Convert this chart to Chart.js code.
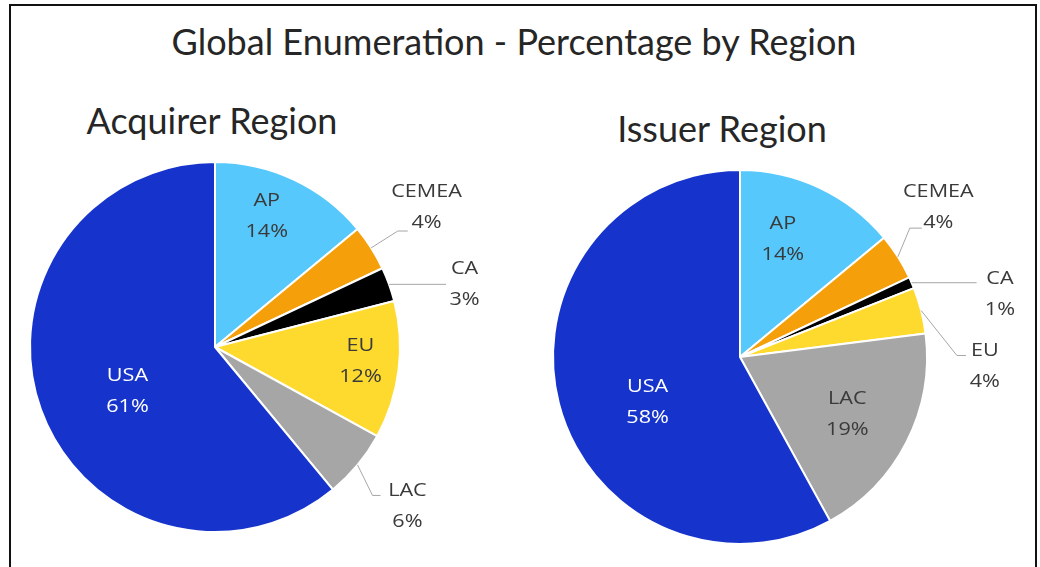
<!DOCTYPE html>
<html>
<head>
<meta charset="utf-8">
<script src="https://cdn.jsdelivr.net/npm/chart.js@4/dist/chart.umd.min.js"></script>
<style>
  html, body { margin: 0; padding: 0; background: #fff; }
  #page { position: relative; width: 1040px; height: 567px; overflow: hidden; }
  #frame { position: absolute; left: 9px; top: 4px; width: 1024px; height: 620px; border: 2px solid #111; }
  .txt { position: absolute; font-family: Lato, sans-serif; color: #262626; white-space: nowrap; text-align: center; }
  #title { left: 0; width: 1028px; top: 19px; font-size: 36px; line-height: 44px; }
  #subA { left: 62px; width: 300px; top: 98px; font-size: 36px; line-height: 44px; }
  #subI { left: 572px; width: 300px; top: 106px; font-size: 36px; line-height: 44px; }
  .box { position: absolute; top: 140px; width: 520px; height: 427px; }
  #boxA { left: 0; }
  #boxI { left: 520px; }
</style>
</head>
<body>
<div id="page">
  <div id="frame"></div>
  <div class="txt" id="title">Global Enumeration - Percentage by Region</div>
  <div class="txt" id="subA">Acquirer Region</div>
  <div class="txt" id="subI">Issuer Region</div>
  <div class="box" id="boxA"><canvas id="acq" width="520" height="427"></canvas></div>
  <div class="box" id="boxI"><canvas id="iss" width="520" height="427"></canvas></div>
</div>
<script>
// data (percent of total)
const regions = ['AP', 'CEMEA', 'CA', 'EU', 'LAC', 'USA'];
const acquirerShare = [14, 4, 3, 12, 6, 61];
const issuerShare = [14, 4, 1, 4, 19, 58];

const sliceColors = ['#56C8FB', '#F5A00B', '#000000', '#FFDA2E', '#A6A6A6', '#1634CC'];

// where each label sits, relative to its slice (k = fraction of radius, turn in degrees)
const acqSpots = [
  { k: 0.76, turn: -3.6 },
  { k: 1.37, turn: -1, elbow: 1.17, eturn: 0, hook: 10 },
  { k: 1.39, turn: 5.8, elbow: 1.0, eturn: 0, hook: 57 },
  { k: 0.79, turn: -1.7 },
  { k: 1.35, turn: 0, elbow: 1.17, eturn: 3.7, hook: 8 },
  { k: 0.53, turn: -7, color: '#ffffff' }
];
const issSpots = [
  { k: 0.67, turn: -5.2 },
  { k: 1.33, turn: -4.7, elbow: 1.14, eturn: -4.8, hook: 12 },
  { k: 1.43, turn: 9.8, elbow: 1.0, eturn: 0, hook: 65 },
  { k: 1.31, turn: 16.5, elbow: 1.16, eturn: 14, hook: 9 },
  { k: 0.65, turn: 1 },
  { k: 0.55, turn: -11.6, color: '#ffffff' }
];

const rad = function (d) { return d * Math.PI / 180; };

var sliceLabels = {
  id: 'sliceLabels',
  afterDatasetsDraw: function (chart, args, opts) {
    var ctx = chart.ctx;
    var meta = chart.getDatasetMeta(0);
    var values = chart.data.datasets[0].data;
    meta.data.forEach(function (arc, i) {
      var p = arc.getProps(['x', 'y', 'startAngle', 'endAngle', 'outerRadius'], true);
      var spot = opts.spots[i];
      var mid = (p.startAngle + p.endAngle) / 2;
      var polar = function (ang, k) {
        return { x: p.x + Math.cos(ang) * k * p.outerRadius, y: p.y + Math.sin(ang) * k * p.outerRadius };
      };
      var t = polar(mid + rad(spot.turn || 0), spot.k);

      ctx.save();
      if (spot.elbow) {
        var a = polar(mid, 1.0);
        var e = polar(mid + rad(spot.eturn || 0), spot.elbow);
        var dir = t.x >= e.x ? 1 : -1;
        ctx.strokeStyle = '#A6A6A6';
        ctx.lineWidth = 1;
        ctx.beginPath();
        ctx.moveTo(a.x, a.y);
        ctx.lineTo(e.x, e.y);
        ctx.lineTo(e.x + dir * spot.hook, e.y);
        ctx.stroke();
      }
      ctx.fillStyle = spot.color || '#3a3a3a';
      ctx.font = '18px "Open Sans"';
      ctx.textAlign = 'center';
      ctx.textBaseline = 'middle';
      var lines = [chart.data.labels[i], values[i] + '%'];
      lines.forEach(function (s, j) {
        ctx.save();
        ctx.translate(t.x, t.y + (j - 0.5) * 31);
        ctx.scale(1.2, 1);
        ctx.fillText(s, 0, 0);
        ctx.restore();
      });
      ctx.restore();
    });
  }
};

function makePie(id, values, spots, pad) {
  return new Chart(document.getElementById(id), {
    type: 'pie',
    data: {
      labels: regions,
      datasets: [{
        data: values,
        backgroundColor: sliceColors,
        borderColor: '#ffffff',
        borderWidth: 2,
        hoverOffset: 0,
        offset: 0
      }]
    },
    options: {
      responsive: false,
      animation: false,
      layout: { padding: pad },
      plugins: {
        legend: { display: false },
        tooltip: { enabled: false },
        sliceLabels: { spots: spots }
      }
    },
    plugins: [sliceLabels]
  });
}

makePie('acq', acquirerShare, acqSpots, { left: 29, top: 21, right: 119, bottom: 34 });
makePie('iss', issuerShare, issSpots, { left: 32, top: 29, right: 112, bottom: 22 });
</script>
</body>
</html>
